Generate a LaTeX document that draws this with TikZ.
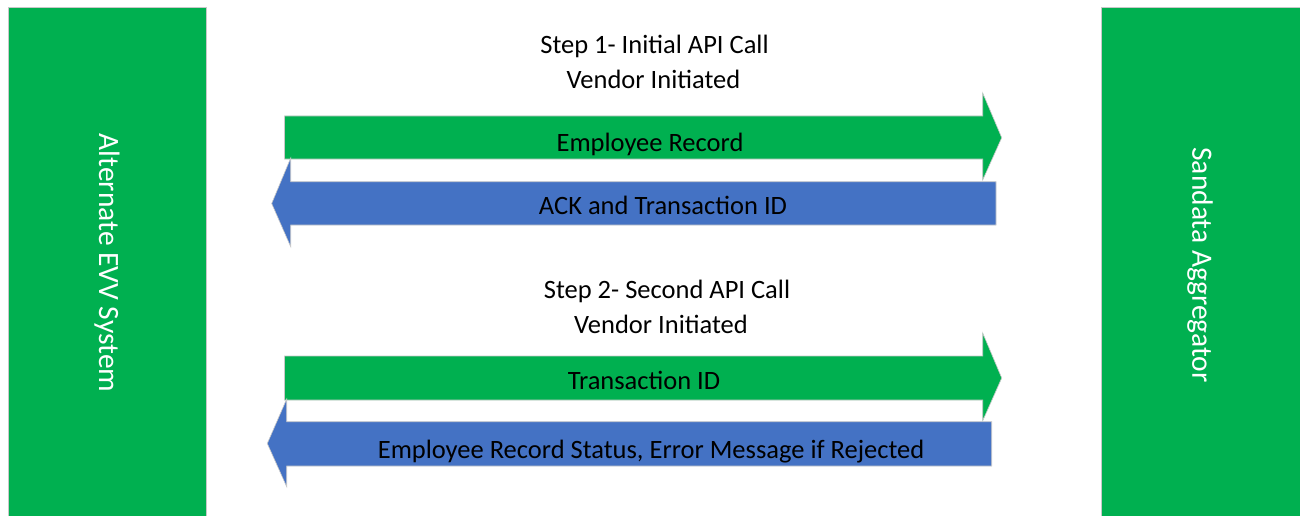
\documentclass[tikz,border=0pt]{standalone}
\usepackage{fontspec}
\setmainfont{Carlito}
\definecolor{evvgreen}{HTML}{00B050}
\definecolor{evvblue}{HTML}{4472C4}
\definecolor{edgegray}{HTML}{C8C8C8}
\tikzset{
  sysbox/.style={fill=evvgreen, draw=edgegray, line width=0.8pt},
  greenarrow/.style={fill=evvgreen, draw=edgegray, line width=0.6pt},
  bluearrow/.style={fill=evvblue, draw=edgegray, line width=0.6pt},
  systext/.style={text=white, font=\fontsize{29.5}{34}\selectfont, rotate=-90},
  arrowtext/.style={text=black, font=\fontsize{26.5}{30}\selectfont},
  steptext/.style={text=black, font=\fontsize{26.5}{32}\selectfont, anchor=base}
}
\begin{document}
\begin{tikzpicture}[x=1pt,y=-1pt]
\useasboundingbox (0,0) rectangle (1300,516);
% system boxes
\path[sysbox] (8,7) rectangle (206,520);
\path[sysbox] (1101,7) rectangle (1304,520);
\node[systext] (alt) at (107,263) {Alternate EVV System};
\node[systext] (san) at (1200,265) {Sandata Aggregator};
% step 1
\node[steptext] (step1) at (654.5,53.5) {Step 1- Initial API Call};
\node[steptext] (vend1) at (653.5,88.5) {Vendor Initiated};
\path[greenarrow] (284.5,116) -- (982.7,116) -- (982.7,93) -- (1001.7,137.7) -- (982.7,180) -- (982.7,159) -- (284.5,159) -- cycle;
\node[arrowtext] (emp) at (650,144.5) {Employee Record};
\path[bluearrow] (996,181.7) -- (290.7,181.7) -- (290.7,158) -- (271.7,203.5) -- (290.7,246.7) -- (290.7,225) -- (996,225) -- cycle;
\node[arrowtext] (ack) at (663,205) {ACK and Transaction ID};
% step 2
\node[steptext] (step2) at (667,298.5) {Step 2- Second API Call};
\node[steptext] (vend2) at (661,333.5) {Vendor Initiated};
\path[greenarrow] (284.5,356) -- (982.7,356) -- (982.7,333) -- (1001.7,378) -- (982.7,420.7) -- (982.7,400) -- (284.5,400) -- cycle;
\node[arrowtext] (tid) at (644,380) {Transaction ID};
\path[bluearrow] (991.7,421.7) -- (286.7,421.7) -- (286.7,399) -- (267.3,443.5) -- (286.7,486.7) -- (286.7,466) -- (991.7,466) -- cycle;
\node[arrowtext] (status) at (651,452) {Employee Record Status, Error Message if Rejected};
\end{tikzpicture}
\end{document}
